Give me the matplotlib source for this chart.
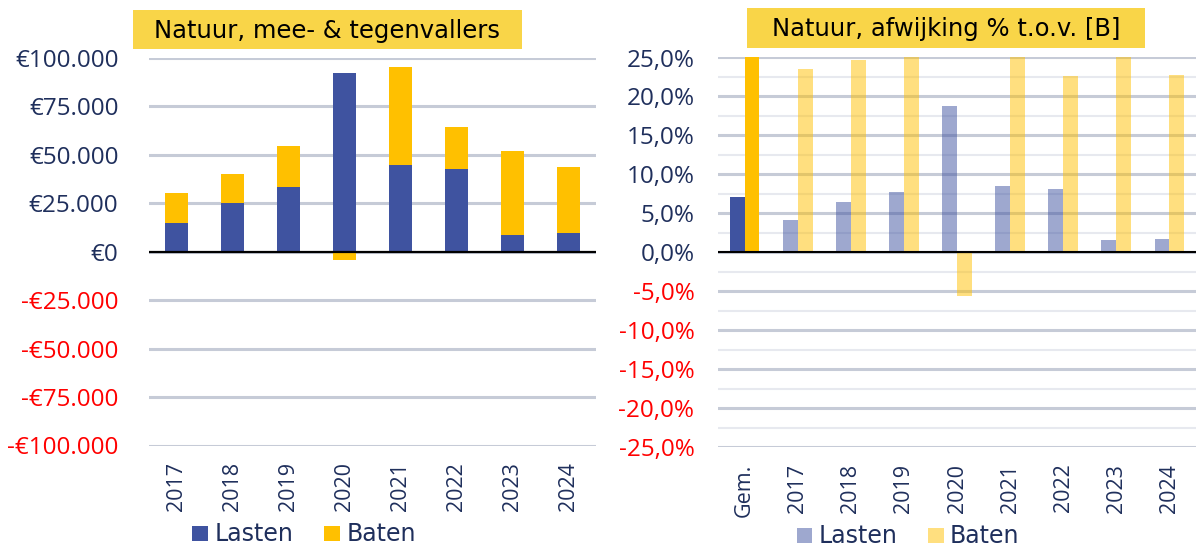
import matplotlib
matplotlib.use("Agg")
import matplotlib.pyplot as plt
import numpy as np
from matplotlib.ticker import MultipleLocator
from matplotlib.patches import Rectangle

plt.rcParams['font.family'] = ['Open Sans', 'DejaVu Sans']

# ---- data ----
years = ['2017', '2018', '2019', '2020', '2021', '2022', '2023', '2024']
left_lasten = [15000, 25400, 33400, 92200, 44900, 42800, 8500, 9800]
left_baten = [15300, 14700, 21400, -4100, 50300, 21800, 43500, 34100]

right_cats = ['Gem.'] + years
right_lasten = [7.1, 4.2, 6.4, 7.7, 18.75, 8.5, 8.1, 1.6, 1.75]
right_baten = [25.0, 23.5, 24.7, 25.0, -5.6, 25.0, 22.6, 25.0, 22.8]

left_ticks = [-100000, -75000, -50000, -25000, 0, 25000, 50000, 75000, 100000]
right_ticks = [-25, -20, -15, -10, -5, 0, 5, 10, 15, 20, 25]

series_names = ['Lasten', 'Baten']
left_title = 'Natuur, mee- & tegenvallers'
right_title = 'Natuur, afwijking % t.o.v. [B]'

# ---- style ----
BLUE = '#3F53A0'
GOLD = '#FFC000'
NAVY = '#1F2F5C'
RED = '#FF0000'
GRID = '#C6CBD7'
GRID_MINOR = '#E7E9EF'
TITLE_BG = '#F9D548'
W, H = 1196, 547

fig = plt.figure(figsize=(W / 100, H / 100), dpi=100)


def px_box(x0, y0, x1, y1):
    """pixel box (top-left origin) -> figure fraction rect"""
    return [x0 / W, (H - y1) / H, (x1 - x0) / W, (y1 - y0) / H]


def fmt_eur(v):
    s = f"{abs(int(v)):,}".replace(',', '.')
    return ('-€' if v < 0 else '€') + s


def fmt_pct(v):
    s = f"{abs(v):.1f}".replace('.', ',') + '%'
    return ('-' if v < 0 else '') + s


def style_axis(ax, ticks, fmt, ypad):
    for s in ax.spines.values():
        s.set_visible(False)
    ax.set_yticks(ticks)
    ax.set_yticklabels([fmt(t) for t in ticks])
    for lab, t in zip(ax.get_yticklabels(), ticks):
        lab.set_color(RED if t < 0 else NAVY)
    ax.tick_params(axis='both', which='both', length=0)
    ax.tick_params(axis='y', pad=ypad, labelsize=17.5)
    ax.tick_params(axis='x', pad=12, labelcolor=NAVY, rotation=90, labelsize=15.5)
    ax.set_axisbelow(True)


# ---- left chart ----
axL = fig.add_axes(px_box(149, 58, 596, 445.5))
x = np.arange(len(years))
lb = np.array(left_baten, dtype=float)
ll = np.array(left_lasten, dtype=float)
bottoms = np.where(lb >= 0, ll, 0)
axL.bar(x, ll, width=0.41, color=BLUE, zorder=2, lw=0)
axL.bar(x, lb, width=0.41, bottom=bottoms, color=GOLD, zorder=2, lw=0)
axL.set_xlim(-0.5, len(years) - 0.5)
axL.set_ylim(-100000, 100000)
axL.set_xticks(x)
axL.set_xticklabels(years)
style_axis(axL, left_ticks, fmt_eur, ypad=22)
axL.yaxis.grid(True, color=GRID, lw=2.2)
axL.axhline(0, color='black', lw=1.6, zorder=3)

# ---- right chart ----
axR = fig.add_axes(px_box(718, 57.5, 1196, 447))
xr = np.arange(len(right_cats))
w = 0.28
alphas = [1.0] + [0.5] * len(years)
for i in range(len(right_cats)):
    axR.bar(xr[i] - w / 2, right_lasten[i], width=w, color=BLUE, alpha=alphas[i], zorder=2, lw=0)
    axR.bar(xr[i] + w / 2, right_baten[i], width=w, color=GOLD, alpha=alphas[i], zorder=2, lw=0)
axR.set_xlim(-0.5, len(right_cats) - 0.5)
axR.set_ylim(-25, 25)
axR.set_xticks(xr)
axR.set_xticklabels(right_cats)
style_axis(axR, right_ticks, fmt_pct, ypad=17)
axR.yaxis.set_minor_locator(MultipleLocator(2.5))
axR.yaxis.grid(True, which='major', color=GRID, lw=2.2)
axR.yaxis.grid(True, which='minor', color=GRID_MINOR, lw=1.5)
axR.axhline(0, color='black', lw=1.5, zorder=3)

# ---- titles (yellow boxes) ----
for (bx0, by0, bx1, by1), title in [((133, 10, 522, 49), left_title),
                                     ((747, 7.5, 1145, 47.5), right_title)]:
    r = px_box(bx0, by0, bx1, by1)
    fig.patches.append(Rectangle((r[0], r[1]), r[2], r[3], transform=fig.transFigure,
                                 facecolor=TITLE_BG, edgecolor='none'))
    fig.text(r[0] + r[2] / 2, r[1] + r[3] / 2 - 0.002, title, fontsize=17.5, color='black',
             ha='center', va='center', family=['DejaVu Sans'])

# ---- legends (manual) ----
def legend(items, y0, y1):
    for (sx0, tx), color, alpha, name in items:
        r = px_box(sx0, y0, sx0 + 15.5, y1)
        fig.patches.append(Rectangle((r[0], r[1]), r[2], r[3], transform=fig.transFigure,
                                     facecolor=color, alpha=alpha, edgecolor='none'))
        fig.text(tx / W, 1 - ((y0 + y1) / 2 + 0.5) / H, name, fontsize=17, color=NAVY,
                 ha='left', va='center', family=['DejaVu Sans'])

legend([((192, 215), BLUE, 1.0, series_names[0]),
        ((324, 347), GOLD, 1.0, series_names[1])], 525.5, 541)
legend([((797, 819), BLUE, 0.5, series_names[0]),
        ((928, 950), GOLD, 0.5, series_names[1])], 527.5, 543)

fig.savefig('out.png', dpi=100)
